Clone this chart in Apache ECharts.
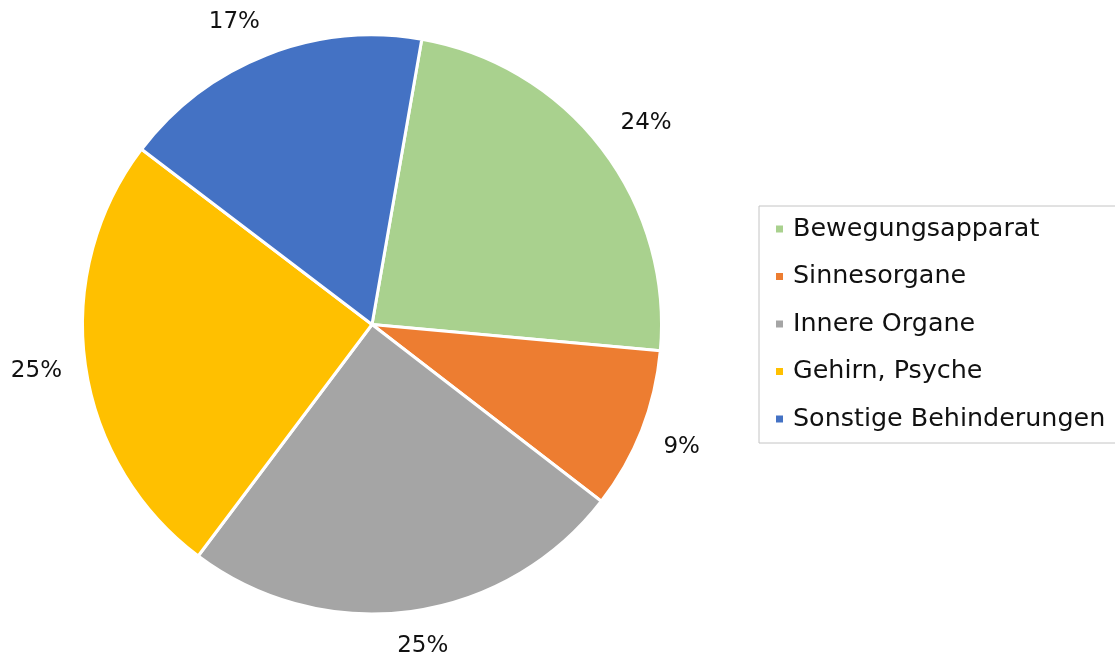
<!DOCTYPE html>
<html>
<head>
<meta charset="utf-8">
<script src="https://cdn.jsdelivr.net/npm/echarts@6/dist/echarts.min.js"></script>
<style>
html,body{margin:0;padding:0;background:#fff;}
#chart{width:1115px;height:657px;}
</style>
</head>
<body>
<div id="chart"></div>
<script>
const categories = ['Bewegungsapparat', 'Sinnesorgane', 'Innere Organe', 'Gehirn, Psyche', 'Sonstige Behinderungen'];
const values = [23.7, 9.0, 24.8, 25.1, 17.4];
const colors = ['#A9D18E', '#ED7D31', '#A5A5A5', '#FFC000', '#4472C4'];

const CX = 372, CY = 324.5, R = 289.5, START = 80.1;
const total = values.reduce((a, b) => a + b, 0);
function midAngle(i) {
  let before = 0;
  for (let k = 0; k < i; k++) before += values[k];
  const a0 = (90 - START) + before / total * 360;
  return (a0 + values[i] / total * 180) * Math.PI / 180; // clockwise from top
}
const clamp = v => Math.max(-1, Math.min(1, v));

const chart = echarts.init(document.getElementById('chart'));
chart.setOption({
  animation: false,
  backgroundColor: '#fff',
  legend: {
    orient: 'vertical',
    left: 759,
    top: 206,
    padding: [9, 14, 10, 15],
    itemGap: 19.5,
    itemWidth: 9,
    itemHeight: 9,
    icon: 'rect',
    borderColor: '#c4c4c4',
    borderWidth: 1,
    data: categories,
    textStyle: {
      fontFamily: 'DejaVu Sans',
      fontSize: 25.4,
      lineHeight: 28,
      color: '#111',
      padding: [0, 0, 0, 4]
    }
  },
  series: [{
    type: 'pie',
    center: [CX, CY],
    radius: R,
    startAngle: START,
    clockwise: true,
    avoidLabelOverlap: false,
    emphasis: { disabled: true },
    itemStyle: { borderColor: '#fff', borderWidth: 3 },
    label: {
      show: true,
      position: 'outside',
      fontFamily: 'DejaVu Sans',
      fontSize: 23,
      color: '#111',
      formatter: p => Math.round(p.percent) + '%'
    },
    labelLine: { show: false },
    labelLayout: function (p) {
      const a = midAngle(p.dataIndex);
      const s = Math.sin(a), c = Math.cos(a);
      const rho = 313;
      const w = p.labelRect.width, h = p.labelRect.height;
      return {
        x: CX + s * rho + clamp(2.5 * s) * w / 2,
        y: CY - c * rho + clamp(-2 * c) * h / 2,
        align: 'center',
        verticalAlign: 'middle'
      };
    },
    data: categories.map((n, i) => ({ name: n, value: values[i], itemStyle: { color: colors[i] } }))
  }]
});
</script>
</body>
</html>
